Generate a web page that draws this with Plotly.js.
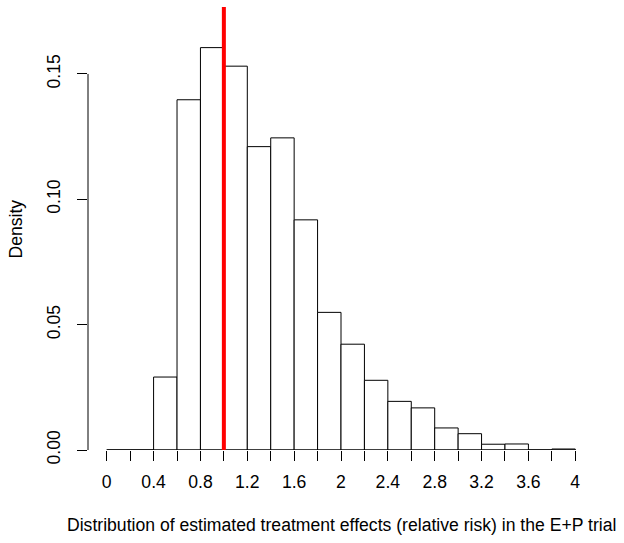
<!DOCTYPE html>
<html>
<head>
<meta charset="utf-8">
<script src="https://cdn.plot.ly/plotly-3.0.1.min.js"></script>
<style>html,body{margin:0;padding:0;background:#fff;}#chart{width:624px;height:543px;}</style>
</head>
<body>
<div id="chart"></div>
<script>
// Histogram bins (left edges, width 0.2) and density heights
const binStart = [0, 0.2, 0.4, 0.6, 0.8, 1.0, 1.2, 1.4, 1.6, 1.8, 2.0, 2.2, 2.4, 2.6, 2.8, 3.0, 3.2, 3.4, 3.6, 3.8];
const density  = [0, 0, 0.0291, 0.1397, 0.1605, 0.1531, 0.1210, 0.1245, 0.0918, 0.0549, 0.0422, 0.0278, 0.0194, 0.0168, 0.0088, 0.0065, 0.0023, 0.0024, 0, 0.0004];
const binWidth = 0.2;
const xTickVals = [0, 0.4, 0.8, 1.2, 1.6, 2, 2.4, 2.8, 3.2, 3.6, 4];
const xTickText = ["0", "0.4", "0.8", "1.2", "1.6", "2", "2.4", "2.8", "3.2", "3.6", "4"];
const yTickVals = [0, 0.05, 0.10, 0.15];
const yTickText = ["0.00", "0.05", "0.10", "0.15"];
const refLineX = 1.0;
const xTitle = "Distribution of estimated treatment effects (relative risk) in the E+P trial";
const yTitle = "Density";

const FONT = "Liberation Sans, Arial, Helvetica, sans-serif";
const FS = 17.6;
const centers = binStart.map(b => b + binWidth / 2);

const traces = [{
  type: "bar",
  x: centers,
  y: density,
  width: binStart.map(() => binWidth),
  marker: {color: "rgba(255,255,255,1)", line: {color: "#000", width: 1}},
  hoverinfo: "skip",
  showlegend: false
}];

const layout = {
  width: 624, height: 543,
  margin: {l: 88, r: 30, t: 7, b: 93, pad: 0},
  paper_bgcolor: "#fff", plot_bgcolor: "#fff",
  font: {family: FONT, size: FS, color: "#000"},
  showlegend: false,
  bargap: 0,
  xaxis: {
    range: [-0.16, 4.16],
    showgrid: false, zeroline: false, showline: false,
    tickmode: "array", tickvals: xTickVals, ticktext: xTickText,
    ticks: "outside", ticklen: 10, tickwidth: 1, tickcolor: "#000",
    ticklabelstandoff: 6,
    minor: {tickmode: "linear", tick0: 0, dtick: 0.2, ticks: "outside", ticklen: 10, tickwidth: 1, tickcolor: "#000", showgrid: false},
    tickfont: {family: FONT, size: FS, color: "#000"},
    fixedrange: true
  },
  yaxis: {
    range: [0, 0.1767],
    showgrid: false, zeroline: false, showline: false,
    tickmode: "array", tickvals: yTickVals, ticktext: yTickText,
    ticks: "outside", ticklen: 10, tickwidth: 1, tickcolor: "#000",
    ticklabelstandoff: 10,
    tickangle: -90,
    tickfont: {family: FONT, size: FS, color: "#000"},
    fixedrange: true
  },
  shapes: [
    {type: "line", xref: "x", yref: "y", x0: xTickVals[0], x1: xTickVals[xTickVals.length - 1], y0: 0, y1: 0, line: {color: "#000", width: 1}},
    {type: "line", xref: "paper", yref: "y", x0: 0, x1: 0, y0: yTickVals[0], y1: yTickVals[yTickVals.length - 1], line: {color: "#000", width: 1}},
    {type: "line", xref: "x", yref: "paper", x0: refLineX, x1: refLineX, y0: 0, y1: 1, line: {color: "#ff0000", width: 4}}
  ],
  annotations: [
    {text: xTitle, xref: "paper", yref: "paper", x: 0.5, y: -0.1693, xanchor: "center", yanchor: "middle", showarrow: false, font: {family: FONT, size: FS, color: "#000"}},
    {text: yTitle, xref: "paper", yref: "paper", x: -0.1423, y: 0.5, xanchor: "center", yanchor: "middle", textangle: -90, showarrow: false, font: {family: FONT, size: FS, color: "#000"}}
  ]
};

Plotly.newPlot("chart", traces, layout, {displayModeBar: false, staticPlot: true});
</script>
</body>
</html>
